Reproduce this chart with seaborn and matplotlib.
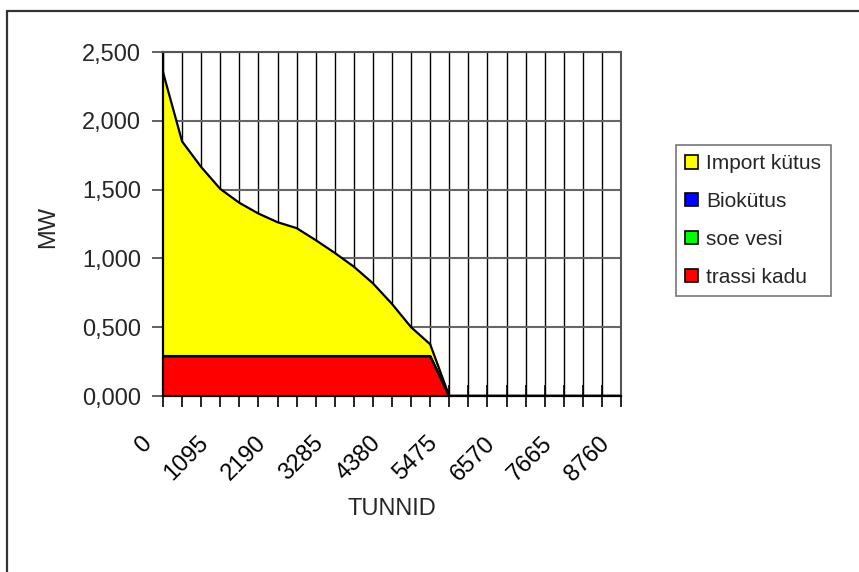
import numpy as np
import pandas as pd
import matplotlib
matplotlib.use("Agg")
import matplotlib.pyplot as plt
from matplotlib.patches import Patch
from matplotlib.lines import Line2D
from matplotlib.ticker import FuncFormatter, NullFormatter
from matplotlib.transforms import ScaledTranslation, blended_transform_factory
import seaborn as sns

# Hours of the year (load-duration categories)
hours = [0, 365, 730, 1095, 1460, 1825, 2190, 2555, 2920, 3285, 3650, 4015, 4380,
         4745, 5110, 5475, 5840, 6205, 6570, 6935, 7300, 7665, 8030, 8395, 8760]
tick_labels = ["0", "1095", "2190", "3285", "4380", "5475", "6570", "7665", "8760"]

# Stacked series, bottom to top
trassi_kadu = [0.29] * 15 + [0.0] * 10
soe_vesi = [0.0] * 25
biokutus = [0.0] * 25
import_kutus = [2.063, 1.560, 1.374, 1.215, 1.114, 1.036, 0.973, 0.930, 0.843, 0.750,
                0.650, 0.529, 0.379, 0.210, 0.086] + [0.0] * 10

series_names = ["trassi kadu", "soe vesi", "Biokütus", "Import kütus"]
series_colors = ["#FF0000", "#00FF00", "#0000FF", "#FFFF00"]

sns.set_theme(style="white")
plt.rcParams["font.family"] = ["Liberation Sans", "DejaVu Sans"]

df = pd.DataFrame({
    "hours": hours,
    "trassi kadu": trassi_kadu,
    "soe vesi": soe_vesi,
    "Biokütus": biokutus,
    "Import kütus": import_kutus,
})

W, H = 859, 572
FS = 17
fig = plt.figure(figsize=(W / 100, H / 100), dpi=100)
fig.patch.set_facecolor("white")
ax = fig.add_axes([163 / W, 1 - 396 / H, (621 - 163) / W, (396 - 52) / H])
ax.set_facecolor("white")

# Stacked areas with black outlines
base = np.zeros(len(hours))
for name, color in zip(series_names, series_colors):
    top = base + df[name].to_numpy()
    ax.fill_between(df["hours"], base, top, facecolor=color, edgecolor="none", zorder=2)
    sns.lineplot(x=df["hours"], y=top, color="black", linewidth=1.6, ax=ax,
                 zorder=3, legend=False)
    base = top

ax.set_xlim(0, 8760)
ax.set_ylim(0, 2.5)

# Tick marks at every category; rotated labels on every third
ax.set_xticks(hours)
ax.xaxis.set_major_formatter(NullFormatter())
lbl_tr = blended_transform_factory(ax.transData, ax.transAxes) + \
    ScaledTranslation(-15 / 100, -44 / 100, fig.dpi_scale_trans)
for lbl in tick_labels:
    ax.text(float(lbl), 0, lbl, transform=lbl_tr, rotation=45, ha="right",
            va="center", rotation_mode="anchor", fontsize=FS, color="black")

ax.set_yticks([0, 0.5, 1.0, 1.5, 2.0, 2.5])
ax.yaxis.set_major_formatter(FuncFormatter(lambda v, p: f"{v:.3f}".replace(".", ",")))
ax.tick_params(axis="y", labelsize=FS, length=8, width=1.3, color="#555555",
               direction="out", pad=8, left=True)
ax.tick_params(axis="x", length=16, width=1.2, color="black", direction="inout",
               bottom=True)
for v in hours:
    ax.axvline(v, color="black", linewidth=1.0, zorder=1)
for v in [0.5, 1.0, 1.5, 2.0, 2.5]:
    ax.axhline(v, color="#666666", linewidth=1.5, zorder=1)

for side in ["top", "right"]:
    ax.spines[side].set_color("#555555")
    ax.spines[side].set_linewidth(1.5)
for side in ["left", "bottom"]:
    ax.spines[side].set_color("black")
    ax.spines[side].set_linewidth(1.6)
for s in ax.spines.values():
    s.set_zorder(4)

ax.set_xlabel("TUNNID", fontsize=FS)
ax.xaxis.set_label_coords(0.5, (396 - 498) / 344)
ax.set_ylabel("MW", fontsize=FS)
ax.yaxis.set_label_coords((59 - 163) / 458, 0.49)

# Legend, top series first
handles = [Patch(facecolor=c, edgecolor="black", linewidth=1.2)
           for c in reversed(series_colors)]
leg = fig.legend(handles, list(reversed(series_names)), loc="upper left",
                 bbox_to_anchor=(676 / W, 1 - 145 / H), fontsize=15,
                 frameon=True, fancybox=False, edgecolor="#555555",
                 handlelength=0.6, handleheight=0.6, handletextpad=0.4,
                 labelspacing=0.9, borderpad=0.45, borderaxespad=0)
leg.get_frame().set_linewidth(1.2)

# Outer chart border
fig.add_artist(Line2D([6.7 / W, 6.7 / W], [0, 1 - 10.7 / H], color="#333333",
                      linewidth=1.6, transform=fig.transFigure))
fig.add_artist(Line2D([6.7 / W, 1], [1 - 10.7 / H, 1 - 10.7 / H], color="#333333",
                      linewidth=1.6, transform=fig.transFigure))

fig.savefig("out.png", dpi=100)
